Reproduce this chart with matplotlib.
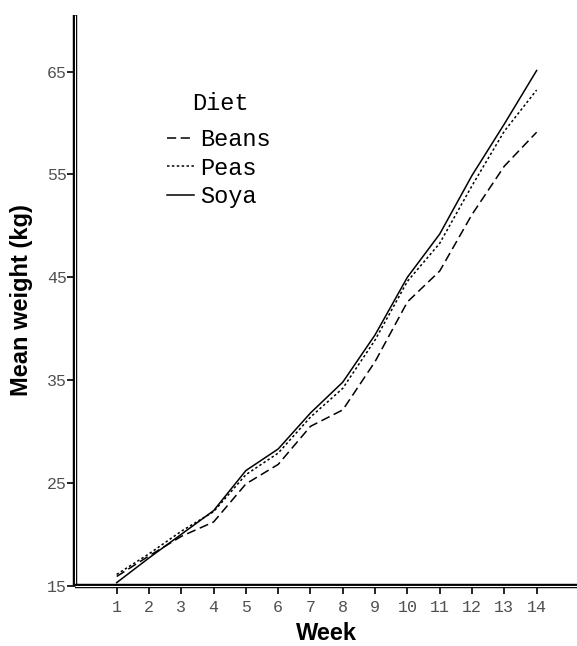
import matplotlib
matplotlib.use("Agg")
import matplotlib.pyplot as plt
import matplotlib.patheffects as pe
from matplotlib.font_manager import FontProperties

weeks = list(range(1, 15))
beans = [15.9, 17.9, 19.8, 21.2, 24.9, 26.8, 30.5, 32.1, 36.8, 42.6, 45.6, 51.1, 55.8, 59.1]
peas = [16.1, 18.1, 20.3, 22.2, 25.8, 27.9, 31.4, 34.2, 38.9, 44.6, 48.3, 53.9, 59.2, 63.2]
soya = [15.3, 17.7, 20.0, 22.3, 26.2, 28.3, 31.8, 34.8, 39.4, 45.0, 49.2, 54.9, 59.9, 65.1]
yticks = [15, 25, 35, 45, 55, 65]

mono = FontProperties(family="Liberation Mono", size=12)
mono_leg = FontProperties(family="Liberation Mono", size=17)

fig = plt.figure(figsize=(5.77, 6.46), dpi=100)
ax = fig.add_axes([0.130, 0.0933, 0.870, 0.8835])

ax.plot(weeks, beans, color="black", lw=1.1, dashes=(6, 3), label="Beans")
ax.plot(weeks, peas, color="black", lw=1.1, dashes=(1.6, 1.6), label="Peas")
ax.plot(weeks, soya, color="black", lw=1.1, label="Soya")

ax.set_xlim(-0.29, 15.25)
ax.set_ylim(15, 70.5)
ax.set_xticks(weeks)
ax.set_yticks(yticks)
ax.tick_params(direction="out", length=6, width=1.2, color="black", labelcolor="#505050")
ax.tick_params(axis="y", pad=0)
ax.tick_params(axis="x", pad=4)
for lab in ax.get_xticklabels() + ax.get_yticklabels():
    lab.set_fontproperties(mono)

# double-line axes
for side in ["top", "right"]:
    ax.spines[side].set_visible(False)
for side in ["left", "bottom"]:
    sp = ax.spines[side]
    sp.set_color("white")
    sp.set_linewidth(0.8)
    sp.set_path_effects([pe.Stroke(linewidth=3.2, foreground="black"), pe.Normal()])
    sp.set_capstyle("butt")

ax.set_xlabel("Week", fontsize=17, fontweight="bold", family="Liberation Sans", labelpad=5)
ax.set_ylabel("Mean weight (kg)", fontsize=17, fontweight="bold", family="Liberation Sans", labelpad=10)

fig.text(220 / 577, 1 - 103 / 646, "Diet", fontproperties=mono_leg, ha="center", va="center")
leg = ax.legend(frameon=False, loc="upper left",
                bbox_to_anchor=(167 / 577, 1 - 128 / 646), bbox_transform=fig.transFigure,
                prop=mono_leg, handlelength=1.15, handletextpad=0.25, labelspacing=0.24,
                borderpad=0, borderaxespad=0)

fig.savefig("out.png", dpi=100)
